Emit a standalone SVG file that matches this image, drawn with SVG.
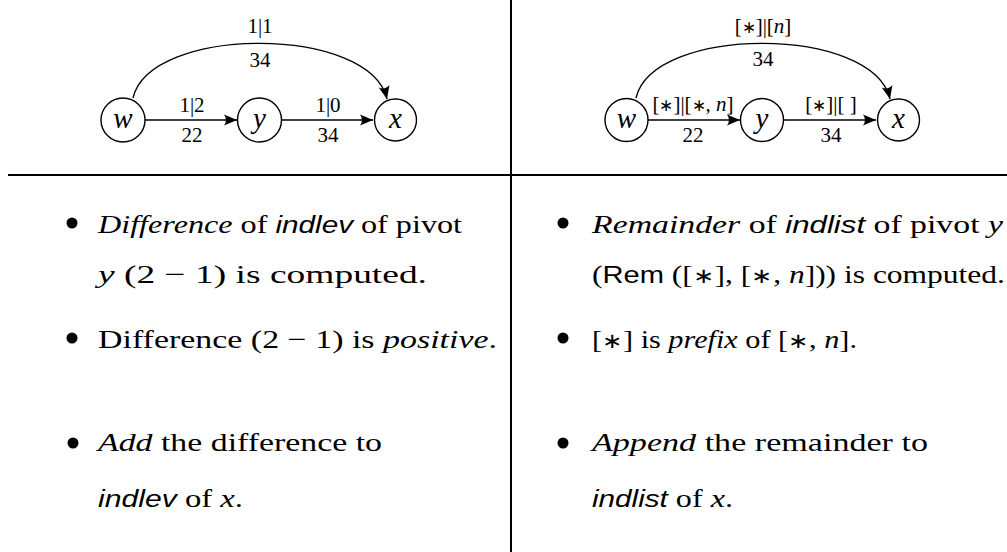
<svg xmlns="http://www.w3.org/2000/svg" width="1007" height="552" viewBox="0 0 1007 552">
<style>
.rule{stroke:#000;stroke-width:2;fill:none}
.node circle{fill:#fff;stroke:#000;stroke-width:1.4}
.node text{font-family:"Liberation Serif",serif;font-style:italic;font-size:29px;text-anchor:middle}
.edge{stroke:#000;stroke-width:1.4;fill:none;marker-end:url(#arr)}
.lbl{font-family:"Liberation Serif",serif;font-size:21px;text-anchor:middle}
.txt{font-family:"Liberation Serif",serif;font-size:26px}
.i{font-style:italic}
.a{font-size:0.8em}
.s{font-family:"Liberation Sans",sans-serif;font-size:24px}
.si{font-family:"Liberation Sans",sans-serif;font-style:italic;font-size:24px}
.bul{fill:#000}
</style>
<defs>
<marker id="arr" markerWidth="14" markerHeight="12" viewBox="0 0 14 12" refX="13" refY="6" orient="auto" markerUnits="userSpaceOnUse">
<path d="M0,0.5 Q4,6 0,11.5 L13,6 Z" fill="#000"/>
</marker>
</defs>
<g id="rules">
<line class="rule" x1="8" y1="175" x2="1007" y2="175"/>
<line class="rule" x1="511" y1="0" x2="511" y2="552"/>
</g>
<g id="connectors">
<path class="edge" d="M145,120 L237,120"/>
<path class="edge" d="M282,120 L373,120"/>
<path class="edge" d="M133,98 C150,25 370,25 387,99"/>
<path class="edge" d="M648,120 L740,120"/>
<path class="edge" d="M783,120 L876,120"/>
<path class="edge" d="M636,98 C653,25 873,25 890,99"/>
</g>
<g id="edge-labels">
<text class="lbl" x="192" y="112">1|2</text>
<text class="lbl" x="192" y="142">22</text>
<text class="lbl" x="328" y="112">1|0</text>
<text class="lbl" x="328" y="142">34</text>
<text class="lbl" x="260" y="33">1|1</text>
<text class="lbl" x="260" y="67">34</text>
<text class="lbl" x="693" y="111">[<tspan class="a">∗</tspan>]|[<tspan class="a">∗</tspan>, <tspan class="i">n</tspan>]</text>
<text class="lbl" x="693" y="142">22</text>
<text class="lbl" x="831" y="111">[<tspan class="a">∗</tspan>]|[ ]</text>
<text class="lbl" x="831" y="142">34</text>
<text class="lbl" x="763" y="33">[<tspan class="a">∗</tspan>]|[<tspan class="i">n</tspan>]</text>
<text class="lbl" x="763" y="66">34</text>
</g>
<g id="node-w1" class="node"><circle cx="123" cy="120" r="22"/><text x="123" y="128">w</text></g>
<g id="node-y1" class="node"><circle cx="259.5" cy="120" r="22"/><text x="259.5" y="128">y</text></g>
<g id="node-x1" class="node"><circle cx="395.5" cy="120" r="21"/><text x="395.5" y="128">x</text></g>
<g id="node-w2" class="node"><circle cx="626.5" cy="120" r="21.5"/><text x="626.5" y="128">w</text></g>
<g id="node-y2" class="node"><circle cx="762" cy="120" r="21.5"/><text x="762" y="128">y</text></g>
<g id="node-x2" class="node"><circle cx="898.5" cy="120" r="21"/><text x="898.5" y="128">x</text></g>
<g id="left-text">
<circle class="bul" cx="72" cy="223" r="5.5"/>
<text class="txt" x="98" y="233" textLength="364" lengthAdjust="spacingAndGlyphs"><tspan class="i">Difference</tspan> of <tspan class="si">indlev</tspan> of pivot</text>
<text class="txt" x="98" y="283" textLength="329" lengthAdjust="spacingAndGlyphs"><tspan class="i">y</tspan> (2 − 1) is computed.</text>
<circle class="bul" cx="72" cy="338" r="5.5"/>
<text class="txt" x="98" y="348" textLength="399" lengthAdjust="spacingAndGlyphs">Difference (2 − 1) is <tspan class="i">positive</tspan>.</text>
<circle class="bul" cx="73" cy="443" r="5.5"/>
<text class="txt" x="98" y="451" textLength="284" lengthAdjust="spacingAndGlyphs"><tspan class="i">Add</tspan> the difference to</text>
<text class="txt" x="98" y="507" textLength="145" lengthAdjust="spacingAndGlyphs"><tspan class="si">indlev</tspan> of <tspan class="i">x</tspan>.</text>
</g>
<g id="right-text">
<circle class="bul" cx="563" cy="223" r="5.5"/>
<text class="txt" x="592" y="233" textLength="411" lengthAdjust="spacingAndGlyphs"><tspan class="i">Remainder</tspan> of <tspan class="si">indlist</tspan> of pivot <tspan class="i">y</tspan></text>
<text class="txt" x="592" y="283" textLength="413" lengthAdjust="spacingAndGlyphs">(<tspan class="s">Rem</tspan> ([<tspan class="a">∗</tspan>], [<tspan class="a">∗</tspan>, <tspan class="i">n</tspan>])) is computed.</text>
<circle class="bul" cx="563" cy="338" r="5.5"/>
<text class="txt" x="592" y="348" textLength="265" lengthAdjust="spacingAndGlyphs">[<tspan class="a">∗</tspan>] is <tspan class="i">prefix</tspan> of [<tspan class="a">∗</tspan>, <tspan class="i">n</tspan>].</text>
<circle class="bul" cx="563" cy="443" r="5.5"/>
<text class="txt" x="592" y="451" textLength="336" lengthAdjust="spacingAndGlyphs"><tspan class="i">Append</tspan> the remainder to</text>
<text class="txt" x="592" y="507" textLength="141" lengthAdjust="spacingAndGlyphs"><tspan class="si">indlist</tspan> of <tspan class="i">x</tspan>.</text>
</g>
</svg>
